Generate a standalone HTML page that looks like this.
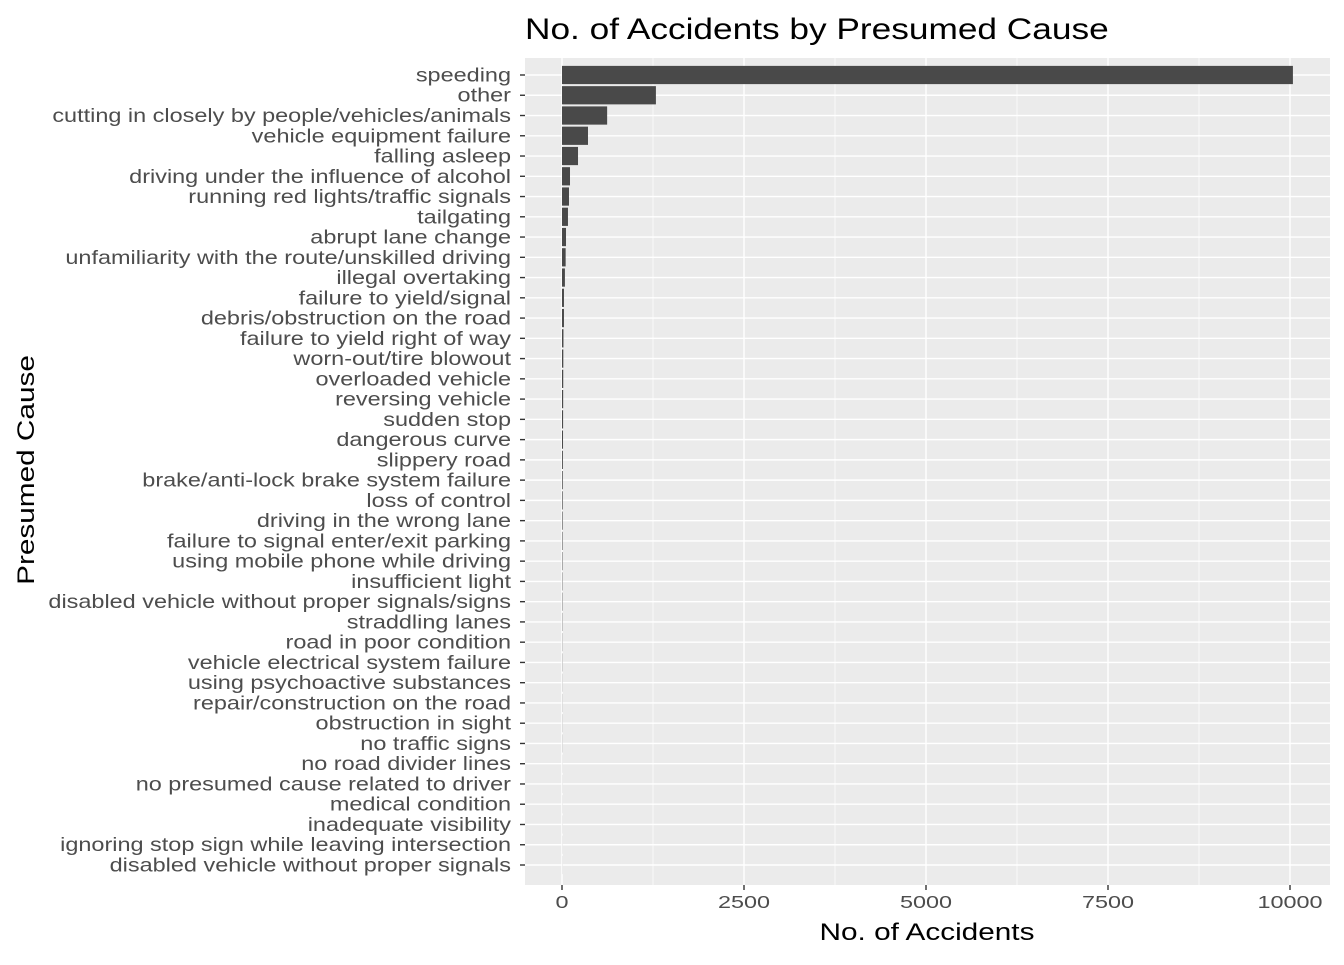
<!DOCTYPE html>
<html><head><meta charset="utf-8"><style>
body{margin:0;background:#fff;font-family:"Liberation Sans",Arial,sans-serif}
</style></head><body>
<svg id="chart" width="1344" height="960" xmlns="http://www.w3.org/2000/svg" font-family="Liberation Sans, Arial, sans-serif"></svg>
<script>
const categories=["speeding","other","cutting in closely by people/vehicles/animals","vehicle equipment failure","falling asleep","driving under the influence of alcohol","running red lights/traffic signals","tailgating","abrupt lane change","unfamiliarity with the route/unskilled driving","illegal overtaking","failure to yield/signal","debris/obstruction on the road","failure to yield right of way","worn-out/tire blowout","overloaded vehicle","reversing vehicle","sudden stop","dangerous curve","slippery road","brake/anti-lock brake system failure","loss of control","driving in the wrong lane","failure to signal enter/exit parking","using mobile phone while driving","insufficient light","disabled vehicle without proper signals/signs","straddling lanes","road in poor condition","vehicle electrical system failure","using psychoactive substances","repair/construction on the road","obstruction in sight","no traffic signs","no road divider lines","no presumed cause related to driver","medical condition","inadequate visibility","ignoring stop sign while leaving intersection","disabled vehicle without proper signals"];
const values=[10040,1290,620,357,220,110,96,82,55,50,40,27,27,20,18,17,16,15,14,12,10,9,8,7,6,5,5,4,3,3,2,2,2,2,1,1,1,1,1,1];
const xTicks=[0,2500,5000,7500,10000];
const NS="http://www.w3.org/2000/svg";
const svg=document.getElementById('chart');
const L=525,R=1330,T=58,B=885;
const x=v=>562+v*(1290-562)/10000;
const y0=75,step=(865-75)/39;
const y=i=>y0+i*step;
function el(t,a,p){const e=document.createElementNS(NS,t);for(const k in a)e.setAttribute(k,a[k]);(p||svg).appendChild(e);return e;}
function stretch(e,ax,ay,s){e.setAttribute('transform',`translate(${ax},${ay}) scale(${s},1) translate(${-ax},${-ay})`);}
const panel=el('rect',{x:L,y:T,width:R-L,height:B-T,fill:'#ebebeb'});


for(let i=0;i<xTicks.length-1;i++){const m=(xTicks[i]+xTicks[i+1])/2;const g=el('line',{x1:x(m),x2:x(m),y1:T,y2:B,stroke:'#fff','stroke-width':0.7});

}
xTicks.forEach(t=>{const g=el('line',{x1:x(t),x2:x(t),y1:T,y2:B,stroke:'#fff','stroke-width':1.4});


const tk=el('line',{x1:x(t),x2:x(t),y1:B,y2:B+5,stroke:'#333','stroke-width':1.4});


const tl=el('text',{x:x(t),y:B+23,'text-anchor':'middle','font-size':18,fill:'#4d4d4d'});tl.textContent=t;
stretch(tl,x(t),B+23,1.3);

});
categories.forEach((c,i)=>{const g=el('line',{x1:L,x2:R,y1:y(i),y2:y(i),stroke:'#fff','stroke-width':1.4});


const b=el('rect',{x:x(0),y:y(i)-step*0.45,width:Math.max(0,x(values[i])-x(0)),height:step*0.9,fill:'#494949'});


const tk=el('line',{x1:L-5,x2:L,y1:y(i),y2:y(i),stroke:'#333','stroke-width':1.4});


const tl=el('text',{x:L-14,y:y(i)+6.5,'text-anchor':'end','font-size':19,fill:'#4d4d4d'});tl.textContent=c;
stretch(tl,L-14,y(i)+6.5,1.235);

});
const tt=el('text',{x:525,y:39,'font-size':30,fill:'#000'});tt.textContent='No. of Accidents by Presumed Cause';
stretch(tt,525,39,1.175);


const xt=el('text',{x:927,y:940,'text-anchor':'middle','font-size':24,fill:'#000'});xt.textContent='No. of Accidents';
stretch(xt,927,940,1.24);


const yt=el('text',{x:0,y:0,'text-anchor':'middle','font-size':24,fill:'#000',transform:'translate(34,470) rotate(-90) scale(1.24,1)'});yt.textContent='Presumed Cause';


</script>
</body></html>
